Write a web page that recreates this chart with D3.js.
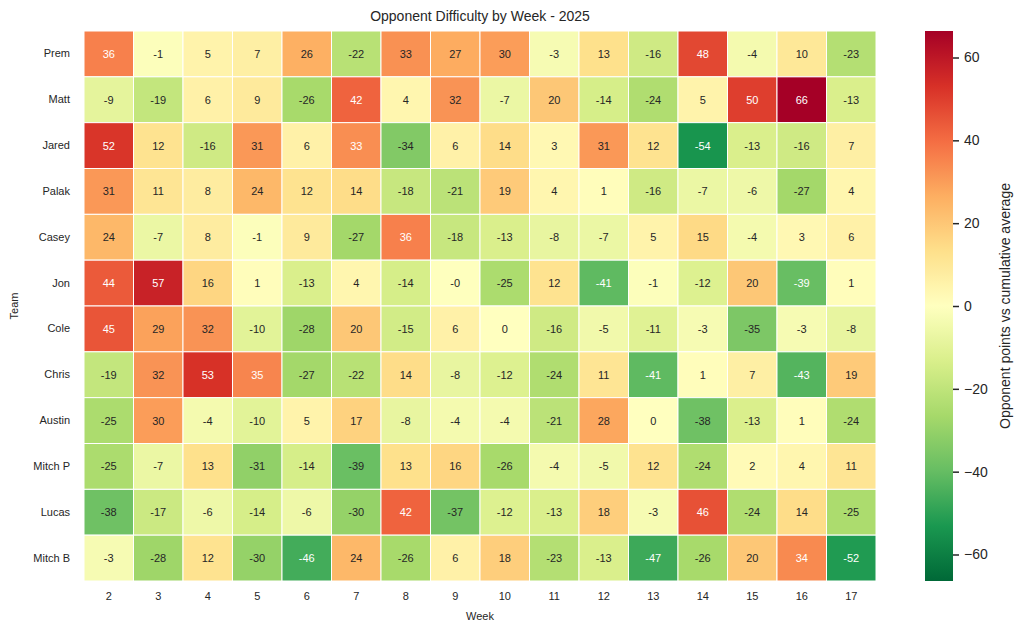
<!DOCTYPE html>
<html>
<head>
<meta charset="utf-8">
<script src="https://cdn.jsdelivr.net/npm/d3@7"></script>
<style>
  body { margin: 0; background: #fff; }
  svg { display: block; font-family: "Liberation Sans", Arial, sans-serif; }
</style>
</head>
<body>
<div id="chart"></div>
<script>
const teams = ["Prem", "Matt", "Jared", "Palak", "Casey", "Jon", "Cole", "Chris", "Austin", "Mitch P", "Lucas", "Mitch B"];
const weeks = [2, 3, 4, 5, 6, 7, 8, 9, 10, 11, 12, 13, 14, 15, 16, 17];

// opponent points vs cumulative average, one row per team (labels are rounded)
const prem   = [36, -1, 5, 7, 26, -22, 32.55, 27, 30, -3, 13, -16, 48, -4, 10, -23];
const matt   = [-9, -19, 6, 9, -26, 42, 4, 32, -7, 20, -14, -24, 5, 50, 66.4, -13];
const jared  = [52, 12, -16, 31, 6, 33.2, -34, 6, 14, 3, 31, 12, -54, -13, -16, 7];
const palak  = [31, 11, 8, 24, 12, 14, -18, -21, 19, 4, 1, -16, -7, -6, -27, 4];
const casey  = [24, -7, 8, -1, 9, -27, 36, -18, -13, -8, -7, 5, 15, -4, 3, 6];
const jon    = [44, 57, 16, 1, -13, 4, -14, -0.2, -25, 12, -41, -1, -12, 20, -39.4, 1];
const cole   = [45, 29, 32, -10, -28, 20, -15, 6, 0, -16, -5, -11, -3, -35, -3, -8];
const chris  = [-19, 32, 53, 35, -27, -22, 14, -8, -12, -24, 11, -41, 1, 7, -43, 19];
const austin = [-25, 30, -4, -10, 5, 17, -8, -4, -4, -21, 28, 0, -38, -13, 1, -24];
const mitchP = [-25, -7, 13, -31, -14, -39, 13, 16, -26, -4, -5, 12, -24, 2, 4, 11];
const lucas  = [-38, -17, -6, -14, -6, -30, 42, -37, -12, -13, 18, -3, 46, -24, 14, -25];
const mitchB = [-3, -28, 12, -30, -46, 24, -26, 6, 18, -23, -13, -47, -26, 20, 34, -52];

const rows = [prem, matt, jared, palak, casey, jon, cole, chris, austin, mitchP, lucas, mitchB];
const cbTicks = [-60, -40, -20, 0, 20, 40, 60];

const width = 1022, height = 634;
const margin = { top: 31, left: 84, right: 876, bottom: 581 };
const textColor = "#262626";

const cells = [];
rows.forEach((r, i) => r.forEach((v, j) => cells.push({ team: teams[i], week: weeks[j], value: v })));

// symmetric color range around 0
const vmax = d3.max(cells, d => Math.abs(d.value));

const svg = d3.select("#chart").append("svg")
    .attr("width", width)
    .attr("height", height);

const x = d3.scaleBand()
    .domain(weeks)
    .range([margin.left, margin.right]);

const y = d3.scaleBand()
    .domain(teams)
    .range([margin.top, margin.bottom]);

// RdYlGn reversed, piecewise linear like matplotlib
const brewer = d3.schemeRdYlGn[11].slice().reverse();
const color = d3.scaleLinear()
    .domain(d3.range(11).map(i => -vmax + i * (2 * vmax) / 10))
    .range(brewer)
    .interpolate(d3.interpolateRgb)
    .clamp(true);

function luminance(c) {
    const rgb = d3.rgb(c);
    const lin = [rgb.r, rgb.g, rgb.b].map(v => {
        v = v / 255;
        return v <= 0.03928 ? v / 12.92 : Math.pow((v + 0.055) / 1.055, 2.4);
    });
    return 0.2126 * lin[0] + 0.7152 * lin[1] + 0.0722 * lin[2];
}

svg.append("g")
    .selectAll("rect")
    .data(cells)
    .join("rect")
    .attr("x", d => x(d.week))
    .attr("y", d => y(d.team))
    .attr("width", x.bandwidth())
    .attr("height", y.bandwidth())
    .attr("fill", d => color(d.value))
    .attr("stroke", "#fff")
    .attr("stroke-width", 1);

svg.append("g")
    .selectAll("text")
    .data(cells)
    .join("text")
    .attr("x", d => x(d.week) + x.bandwidth() / 2)
    .attr("y", d => y(d.team) + y.bandwidth() / 2)
    .attr("text-anchor", "middle")
    .attr("dominant-baseline", "central")
    .attr("font-size", "11px")
    .attr("fill", d => luminance(color(d.value)) > 0.408 ? textColor : "#fff")
    .text(d => d.value.toFixed(0));

// axes
const xAxis = svg.append("g")
    .attr("transform", `translate(0,${margin.bottom})`)
    .call(d3.axisBottom(x).tickSize(0).tickPadding(11));
xAxis.select(".domain").remove();
xAxis.selectAll("text").attr("font-size", "11px").attr("fill", textColor)
    .attr("font-family", "Liberation Sans, Arial, sans-serif");

const yAxis = svg.append("g")
    .attr("transform", `translate(${margin.left},0)`)
    .call(d3.axisLeft(y).tickSize(0).tickPadding(14));
yAxis.select(".domain").remove();
yAxis.selectAll("text").attr("font-size", "11px").attr("fill", textColor)
    .attr("font-family", "Liberation Sans, Arial, sans-serif");

svg.append("text")
    .attr("x", (margin.left + margin.right) / 2)
    .attr("y", 21)
    .attr("text-anchor", "middle")
    .attr("font-size", "14px")
    .attr("fill", textColor)
    .text("Opponent Difficulty by Week - 2025");

svg.append("text")
    .attr("x", (margin.left + margin.right) / 2)
    .attr("y", 620)
    .attr("text-anchor", "middle")
    .attr("font-size", "11px")
    .attr("fill", textColor)
    .text("Week");

svg.append("text")
    .attr("transform", `translate(18,${(margin.top + margin.bottom) / 2}) rotate(-90)`)
    .attr("text-anchor", "middle")
    .attr("font-size", "11px")
    .attr("fill", textColor)
    .text("Team");

// colorbar
const cb = { x: 925, w: 28 };
const cbScale = d3.scaleLinear()
    .domain([-vmax, vmax])
    .range([margin.bottom, margin.top]);

const grad = svg.append("defs").append("linearGradient")
    .attr("id", "cbGrad")
    .attr("x1", 0).attr("y1", 1).attr("x2", 0).attr("y2", 0);
grad.selectAll("stop")
    .data(d3.range(0, 1.0001, 0.02))
    .join("stop")
    .attr("offset", d => d)
    .attr("stop-color", d => color(-vmax + d * 2 * vmax));

svg.append("rect")
    .attr("x", cb.x)
    .attr("y", margin.top)
    .attr("width", cb.w)
    .attr("height", margin.bottom - margin.top)
    .attr("fill", "url(#cbGrad)");

const cbAxis = svg.append("g")
    .attr("transform", `translate(${cb.x + cb.w},0)`)
    .call(d3.axisRight(cbScale).tickValues(cbTicks).tickSize(6).tickPadding(5));
cbAxis.select(".domain").remove();
cbAxis.selectAll("line").attr("stroke", textColor).attr("stroke-width", 1.5);
cbAxis.selectAll("text").attr("font-size", "14px").attr("fill", textColor)
    .attr("font-family", "Liberation Sans, Arial, sans-serif");

svg.append("text")
    .attr("transform", `translate(1010,${(margin.top + margin.bottom) / 2}) rotate(-90)`)
    .attr("text-anchor", "middle")
    .attr("font-size", "14px")
    .attr("fill", textColor)
    .text("Opponent points vs cumulative average");
</script>
</body>
</html>
